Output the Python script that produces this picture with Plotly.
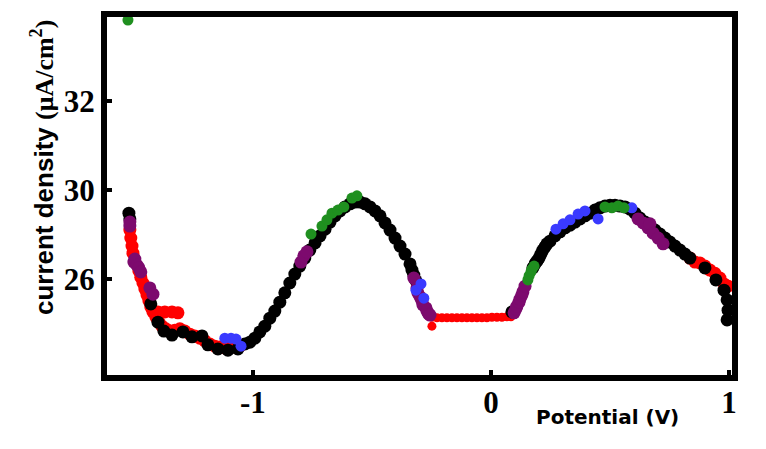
import plotly.graph_objects as go

# ---- data (potential in V, current density in uA/cm^2) ----
black_x = [-1.521, -1.517, -1.429, -1.399, -1.374, -1.340, -1.294, -1.256, -1.214, -1.189, -1.147, -1.105, -1.063, -1.034,
           -1.013, -0.992, -0.971, -0.950, -0.929, -0.908, -0.887, -0.866, -0.845, -0.824, -0.803, -0.782, -0.761, -0.739,
           -0.718, -0.697, -0.676, -0.655, -0.634, -0.613, -0.592, -0.571, -0.550, -0.529, -0.508, -0.487, -0.466, -0.445,
           -0.424, -0.403, -0.382, -0.361, -0.340, -0.332, -0.324, -0.315, 0.088,
           0.176, 0.185, 0.193, 0.202, 0.210, 0.218, 0.227, 0.235, 0.248, 0.269, 0.290, 0.311, 0.332, 0.353, 0.374, 0.395,
           0.416, 0.437, 0.458, 0.479,
           0.500, 0.521, 0.542, 0.563, 0.584, 0.605, 0.626, 0.647, 0.668, 0.689, 0.710, 0.731, 0.752, 0.773, 0.794, 0.815,
           0.836, 0.899, 0.945, 0.979, 0.992, 0.996, 0.992]
black_y = [29.48, 29.35, 27.44, 27.03, 26.83, 26.74, 26.81, 26.70, 26.72, 26.52, 26.43, 26.40, 26.43, 26.54,
           26.58, 26.67, 26.81, 26.94, 27.12, 27.28, 27.48, 27.69, 27.91, 28.11, 28.29, 28.47, 28.65, 28.81,
           28.97, 29.12, 29.28, 29.42, 29.53, 29.62, 29.69, 29.73, 29.73, 29.69, 29.62, 29.53, 29.42, 29.26,
           29.10, 28.92, 28.74, 28.56, 28.34, 28.20, 28.09, 27.96, 27.26,
           28.25, 28.34, 28.40, 28.47, 28.56, 28.65, 28.72, 28.79, 28.85, 28.97, 29.06, 29.15, 29.21, 29.28, 29.35, 29.42,
           29.48, 29.55, 29.60, 29.64,
           29.66, 29.66, 29.64, 29.62, 29.57, 29.48, 29.37, 29.28, 29.19, 29.10, 29.01, 28.92, 28.83, 28.74, 28.65, 28.56,
           28.47, 28.25, 27.98, 27.75, 27.53, 27.30, 27.08]

red_x = [-1.517, -1.513, -1.508, -1.504, -1.479, -1.471, -1.462, -1.454, -1.445, -1.437, -1.429, -1.420, -1.408, -1.395,
         -1.382, -1.366, -1.349, -1.328, -1.307, -1.286, -1.265, -1.244, -1.223, -1.202, -1.181, -1.160, -1.139, -1.118,
         -1.097, -1.076, -1.055, -1.399, -1.370, -1.340, -1.315,
         0.836, 0.857, 0.878, 0.899, 0.920, 0.941, 0.962, 0.979, 0.996]
red_y = [29.10, 28.92, 28.74, 28.58, 28.18, 28.04, 27.91, 27.78, 27.64, 27.51, 27.37, 27.26, 27.15, 27.03,
         26.94, 26.88, 26.83, 26.85, 26.88, 26.83, 26.76, 26.72, 26.67, 26.61, 26.54, 26.49, 26.47, 26.45,
         26.45, 26.47, 26.49, 27.26, 27.26, 27.26, 27.24,
         28.47, 28.38, 28.36, 28.29, 28.20, 28.13, 28.02, 27.89, 27.84]

# plateau between the two peaks (red)
plateau_x = [-0.248, -0.227, -0.206, -0.185, -0.164, -0.143, -0.122, -0.101, -0.080, -0.059, -0.038, -0.017, 0.004,
             0.025, 0.046, 0.067, 0.084, -0.248]
plateau_y = [27.14, 27.13, 27.13, 27.13, 27.13, 27.13, 27.13, 27.13, 27.13, 27.13, 27.13, 27.13, 27.14,
             27.14, 27.14, 27.15, 27.15, 26.94]

purple_x = [-1.517, -1.517, -1.500, -1.496, -1.487, -1.479, -1.471, -1.433, -1.420,
            -0.798, -0.786, -0.773,
            -0.324, -0.311, -0.307, -0.298, -0.290, -0.286, -0.273, -0.269, -0.261, -0.256,
            0.097, 0.105, 0.109, 0.118, 0.122, 0.130, 0.134, 0.143,
            0.618, 0.639, 0.660, 0.668, 0.681, 0.702, 0.723]
purple_y = [29.28, 29.19, 28.38, 28.45, 28.31, 28.25, 28.16, 27.80, 27.66,
            28.38, 28.52, 28.61,
            28.02, 27.80, 27.69, 27.60, 27.51, 27.42, 27.35, 27.28, 27.21, 27.19,
            27.24, 27.33, 27.39, 27.48, 27.55, 27.64, 27.71, 27.84,
            29.35, 29.26, 29.15, 29.24, 29.03, 28.92, 28.79]

blue_x = [-1.118, -1.092, -1.071, -1.050, -0.315, -0.294, -0.282,
          0.273, 0.303, 0.332, 0.366, 0.395, 0.450, 0.592]
blue_y = [26.67, 26.67, 26.65, 26.49, 27.75, 27.89, 27.57,
          29.12, 29.24, 29.33, 29.46, 29.53, 29.35, 29.60]

green_x = [-1.525, -0.756, -0.710, -0.689, -0.668, -0.643, -0.618, -0.584, -0.563,
           0.155, 0.160, 0.168, 0.172, 0.181, 0.479, 0.508, 0.534, 0.559]
green_y = [33.82, 29.01, 29.19, 29.33, 29.48, 29.55, 29.62, 29.82, 29.87,
           27.98, 28.07, 28.16, 28.22, 28.29, 29.62, 29.60, 29.64, 29.60]

x_ticks = [-1, 0, 1]
x_tick_labels = ["-1", "0", "1"]
y_ticks = [28, 30, 32]
y_tick_labels = ["26", "30", "32"]

series = [
    ("red", red_x, red_y, "#ff0000", 13),
    ("plateau", plateau_x, plateau_y, "#ff0000", 9),
    ("black", black_x, black_y, "#000000", 13),
    ("purple", purple_x, purple_y, "#7d0a6e", 13),
    ("blue", blue_x, blue_y, "#3a3aff", 11),
    ("green", green_x, green_y, "#1f8f1f", 11),
]

fig = go.Figure()
for name, xs, ys, col, sz in series:
    fig.add_trace(go.Scatter(x=xs, y=ys, mode="markers", name=name,
                             marker=dict(color=col, size=sz, symbol="circle", line=dict(width=0))))

axis_common = dict(showline=True, linecolor="black", linewidth=6, mirror=True, automargin=False,
                   showgrid=False, zeroline=False, ticks="inside", ticklen=5, tickwidth=4,
                   tickcolor="black",
                   tickfont=dict(family="Liberation Serif", size=31, color="black", weight="bold"))

fig.update_layout(
    width=766, height=449,
    margin=dict(l=99, r=42, t=9, b=82, autoexpand=False),
    paper_bgcolor="white", plot_bgcolor="white",
    showlegend=False,
    xaxis=dict(range=[-1.613, 1.0126], tickvals=x_ticks, ticktext=x_tick_labels,
               ticklabelstandoff=-5, **axis_common),
    yaxis=dict(range=[25.843, 33.888], tickvals=y_ticks, ticktext=y_tick_labels, **axis_common),
    annotations=[
        dict(text="current density <span style='font-family:Liberation Serif'>(μA/cm<sup>2</sup>)</span>",
             xref="paper", yref="paper", x=-0.104, y=0.578, textangle=-90,
             xanchor="center", yanchor="middle", showarrow=False,
             font=dict(family="Liberation Sans", size=26, color="black", weight="bold")),
        dict(text="Potential (V)", xref="paper", yref="paper", x=0.8, y=-0.118,
             xanchor="center", yanchor="middle", showarrow=False,
             font=dict(family="DejaVu Sans", size=20, color="black", weight="bold")),
    ],
)

fig.write_html("out.html")
